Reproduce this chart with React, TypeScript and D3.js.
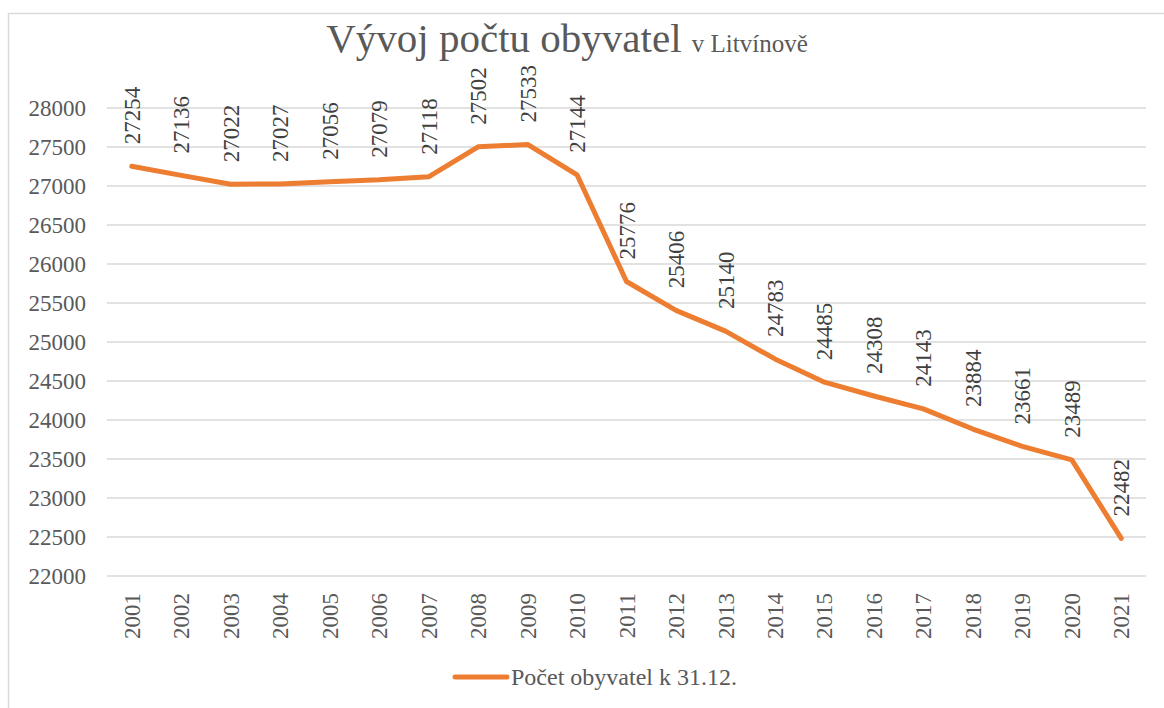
import React, { useEffect, useRef } from "react"
import * as d3 from "d3"

const years = ["2001", "2002", "2003", "2004", "2005", "2006", "2007", "2008", "2009", "2010", "2011",
  "2012", "2013", "2014", "2015", "2016", "2017", "2018", "2019", "2020", "2021"]
const population = [27254, 27136, 27022, 27027, 27056, 27079, 27118, 27502, 27533, 27144, 25776,
  25406, 25140, 24783, 24485, 24308, 24143, 23884, 23661, 23489, 22482]
const yTicks = [22000, 22500, 23000, 23500, 24000, 24500, 25000, 25500, 26000, 26500, 27000, 27500, 28000]
const seriesName = "Počet obyvatel k 31.12."

const W = 1164
const H = 708
const font = "Liberation Serif"
const textColor = "#595959"
const lineColor = "#ED7D31"

const App = () => {
  const ref = useRef<SVGSVGElement>(null)

  useEffect(() => {
    const svg = d3.select(ref.current)
    svg.selectAll("*").remove()

    const x = d3.scaleBand().domain(years).range([107, 1146])
    const y = d3.scaleLinear().domain([22000, 28000]).range([576, 108])
    const cx = (d: string) => (x(d) as number) + x.bandwidth() / 2

    // chart frame
    svg.append("rect")
      .attr("x", 8.5).attr("y", 13.5)
      .attr("width", 1300).attr("height", 900)
      .attr("fill", "white").attr("stroke", "#d9d9d9").attr("stroke-width", 1.5)

    const g = svg.append("g").style("font-family", font)

    // title
    const title = g.append("text")
      .attr("x", 567).attr("y", 52)
      .attr("text-anchor", "middle")
      .attr("fill", textColor)
    title.append("tspan").attr("font-size", 41).text("Vývoj počtu obyvatel ")
    title.append("tspan").attr("font-size", 25).text("v Litvínově")

    // grid
    g.append("g")
      .selectAll("line")
      .data(yTicks)
      .join("line")
      .attr("x1", 107).attr("x2", 1146)
      .attr("y1", (d) => y(d)).attr("y2", (d) => y(d))
      .attr("stroke", "#d9d9d9").attr("stroke-width", 1.5)

    // y labels
    g.append("g")
      .selectAll("text")
      .data(yTicks)
      .join("text")
      .attr("x", 86).attr("y", (d) => y(d))
      .attr("dy", "0.35em")
      .attr("text-anchor", "end")
      .attr("font-size", 23).attr("fill", textColor)
      .text((d) => d)

    // x labels
    g.append("g")
      .selectAll("text")
      .data(years)
      .join("text")
      .attr("transform", (d) => `translate(${cx(d)},593) rotate(-90)`)
      .attr("dy", "0.35em")
      .attr("text-anchor", "end")
      .attr("font-size", 23).attr("fill", textColor)
      .text((d) => d)

    // line
    const line = d3.line<number>()
      .x((_, i) => cx(years[i]))
      .y((d) => y(d))
    g.append("path")
      .datum(population)
      .attr("d", line)
      .attr("fill", "none")
      .attr("stroke", lineColor).attr("stroke-width", 5)
      .attr("stroke-linecap", "round").attr("stroke-linejoin", "round")

    // data labels
    g.append("g")
      .selectAll("text")
      .data(population)
      .join("text")
      .attr("transform", (d, i) => `translate(${cx(years[i])},${y(d) - 22}) rotate(-90)`)
      .attr("dy", "0.35em")
      .attr("text-anchor", "start")
      .attr("font-size", 23).attr("fill", "#404040")
      .text((d) => d)

    // legend
    g.append("line")
      .attr("x1", 455).attr("x2", 507).attr("y1", 677).attr("y2", 677)
      .attr("stroke", lineColor).attr("stroke-width", 5).attr("stroke-linecap", "round")
    g.append("text")
      .attr("x", 511).attr("y", 677).attr("dy", "0.35em")
      .attr("font-size", 24).attr("fill", textColor)
      .text(seriesName)
  }, [])

  return (
    <svg ref={ref} width={W} height={H}
      style={{ position: "absolute", left: 0, top: 0, display: "block", background: "white" }} />
  )
}

export default App
